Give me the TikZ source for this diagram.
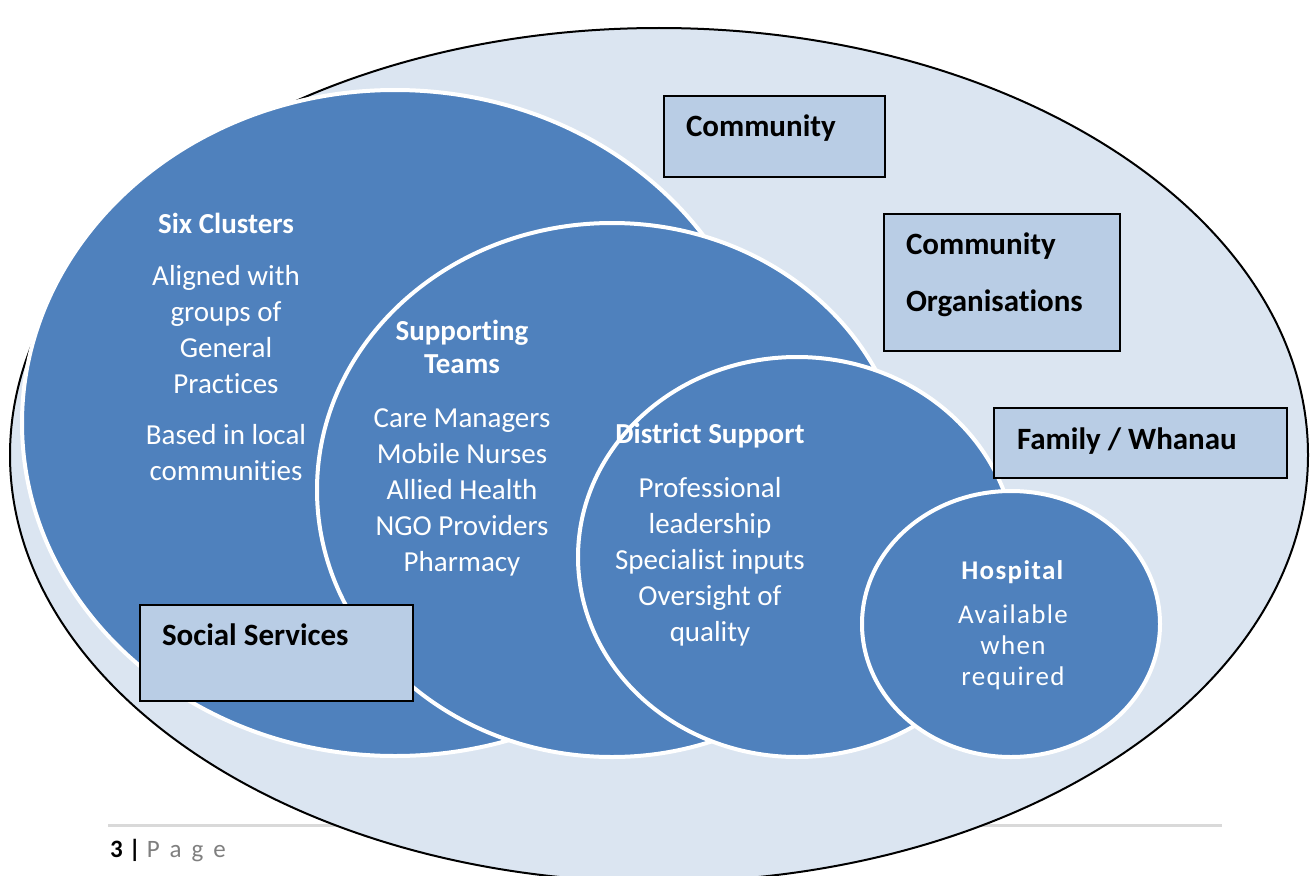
\documentclass[tikz,border=0pt]{standalone}
\usepackage{fontspec}
\setmainfont{Carlito}[Ligatures=NoCommon]
\definecolor{ringblue}{HTML}{4F81BD}
\definecolor{outerblue}{HTML}{DBE5F1}
\definecolor{tagblue}{HTML}{B9CDE5}
\definecolor{footgray}{HTML}{7F7F7F}
\tikzset{
	ring/.style={fill=ringblue, draw=white, line width=4pt},
	tag/.style={draw=black, line width=2pt, fill=tagblue, anchor=north west, align=flush left,
		inner xsep=22pt, inner ysep=0pt, font=\fontsize{31}{38}\selectfont\bfseries},
	ringtext/.style={text=white, align=flush center, anchor=base, inner sep=0pt,
		text width=300pt, font=\fontsize{29}{36}\selectfont},
}

\begin{document}
\begin{tikzpicture}[x=1pt, y=-1pt]
		%%%%% START %%%%%
		\path[use as bounding box, fill=white] (0, 0) rectangle (1311, 875);
		
		% page footer
		\draw[line width=3pt, color=black!15] (108, 825) -- (1222, 825);
		\node[anchor=base west, inner sep=0pt, font=\fontsize{25}{28}\selectfont] (pageno) at (110, 857)
			{\textbf{3\hspace{6pt}|}\hspace{6pt}\textcolor{footgray}{P\hspace{10pt}a\hspace{10pt}g\hspace{10pt}e}};
		
		% outer community ring
		\draw[line width=2pt, fill=outerblue] (659, 455) ellipse [x radius=649, y radius=427];
		
		% inner rings, drawn back to front
		\draw[ring] (395, 423) ellipse [x radius=373, y radius=333];
		\draw[ring] (612, 490) ellipse [x radius=295, y radius=267];
		\draw[ring] (797, 557) ellipse [x radius=219, y radius=200];
		\draw[ring] (1011, 624) ellipse [x radius=149, y radius=133];
		
		\node[ringtext] (clusters) at (226, 233) {\textbf{Six Clusters}\\[16pt]
			Aligned with\\groups of\\General\\Practices\\[15pt]
			Based in local\\communities};
		
		\node[ringtext] (teams) at (462, 340) {\textbf{Supporting}\\[-3pt]\textbf{Teams}\\[18pt]
			Care Managers\\Mobile Nurses\\Allied Health\\NGO Providers\\Pharmacy};
		
		\node[ringtext] (district) at (710, 443) {\textbf{District Support}\\[18pt]
			Professional\\leadership\\Specialist inputs\\Oversight of\\quality};
		
		\node[ringtext, text width=220pt, font=\fontsize{27}{31}\selectfont\addfontfeature{LetterSpace=5}] (hospital) at (1013, 579)
			{\textbf{Hospital}\\[13pt]Available\\when\\required};
		
		% labels for the wider community
		\node[tag, text width=177pt, text height=40pt, text depth=41pt] (community) at (663, 95) {Community};
		\node[tag, text width=192pt, text height=40pt, text depth=97pt] (orgs) at (883, 213)
			{Community\\[19pt]Organisations};
		\node[tag, text width=247pt, inner xsep=23pt, text height=41pt, text depth=29pt] (family) at (993, 407)
			{Family / Whanau};
		\node[tag, text width=229pt, text height=40pt, text depth=56pt] (social) at (139, 604) {Social Services};
		
		%%%%% END %%%%%
	\end{tikzpicture}
\end{document}
